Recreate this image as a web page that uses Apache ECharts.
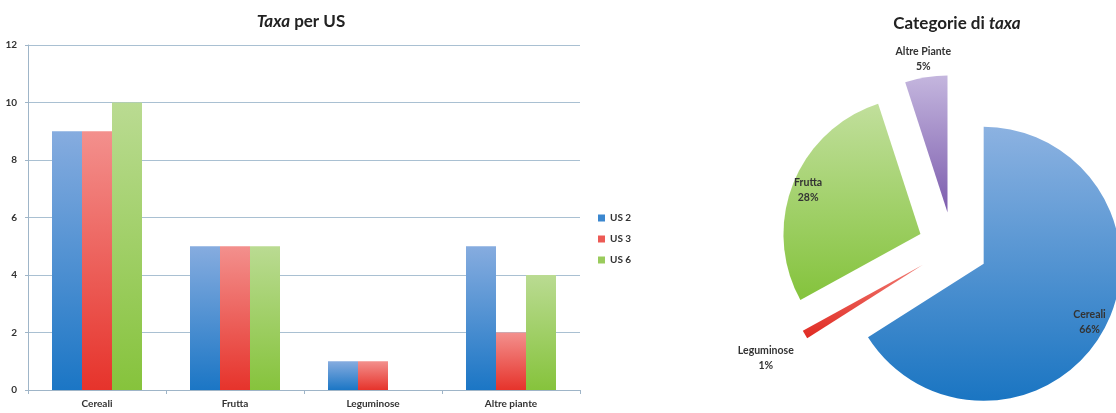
<!DOCTYPE html>
<html><head><meta charset="utf-8">
<script src="https://cdn.jsdelivr.net/npm/echarts@6/dist/echarts.min.js"></script>
<style>html,body{margin:0;padding:0;background:#fff}#c{width:1116px;height:413px}</style>
</head><body><div id="c"></div>
<script>
const categories = ['Cereali', 'Frutta', 'Leguminose', 'Altre piante'];
const us2 = [9, 5, 1, 5];
const us3 = [9, 5, 1, 2];
const us6 = [10, 5, 0, 4];
const seriesNames = ['US 2', 'US 3', 'US 6'];
const yTicks = [0, 2, 4, 6, 8, 10, 12];
const pieNames = ['Cereali', 'Leguminose', 'Frutta', 'Altre Piante'];
const pieValues = [66, 1, 28, 5];

const FONT = 'Lato, "Open Sans", sans-serif';
function grad(top, bottom) {
  return new echarts.graphic.LinearGradient(0, 0, 0, 1, [{offset: 0, color: top}, {offset: 1, color: bottom}]);
}
const barGrads = [grad('#86acdf', '#1b76c5'), grad('#f3908d', '#e6332b'), grad('#badb92', '#86c33c')];
const barSolid = ['#3b87cf', '#ec5a55', '#9acb5c'];
const pieGrads = {
  'Cereali': grad('#8cb2e1', '#1a75c2'),
  'Leguminose': grad('#f07a72', '#e02a22'),
  'Frutta': grad('#c1df9c', '#84c33c'),
  'Altre Piante': grad('#c4b6de', '#7c5cad')
};
const R = 137, OFF = 35, CX = 953, CY = 247;

const barData = [us2, us3, us6];
const pieMain = pieNames.map((n, i) => ({name: n, value: pieValues[i], selected: true, itemStyle: {color: pieGrads[n]}}));
function labeledOnly(names) {
  return pieNames.map((n, i) => ({name: n, value: pieValues[i], selected: true, label: {show: names.includes(n)}}));
}

const labelStyle = {fontFamily: FONT, fontSize: 10.5, color: '#333', fontWeight: 'bold', lineHeight: 15, formatter: '{b}\n{d}%'};
function overlay(data, r0, r1) {
  return {
    type: 'pie', center: [CX, CY], radius: [r0, r1], startAngle: 90, clockwise: true,
    selectedMode: 'multiple', selectedOffset: OFF, silent: true, animation: false,
    itemStyle: {color: 'rgba(0,0,0,0)'}, emphasis: {disabled: true},
    label: Object.assign({position: 'inside'}, labelStyle), labelLine: {show: false},
    select: {itemStyle: {color: 'rgba(0,0,0,0)'}},
    data: data, z: 5
  };
}
const titleRich = {
  i: {fontFamily: FONT, fontSize: 17, fontWeight: 'bold', fontStyle: 'italic', color: '#222'},
  b: {fontFamily: FONT, fontSize: 17, fontWeight: 'bold', color: '#222'}
};

const chart = echarts.init(document.getElementById('c'), null, {renderer: 'canvas'});
chart.setOption({
  animation: false,
  title: [
    {text: '{i|Taxa}{b| per US}', left: 296, top: 8, textAlign: 'center', textStyle: {rich: titleRich}},
    {text: '{b|Categorie di }{i|taxa}', left: 952, top: 10, textAlign: 'center', textStyle: {rich: titleRich}}
  ],
  legend: {
    orient: 'vertical', left: 593, top: 208, itemWidth: 7, itemHeight: 7, itemGap: 11,
    icon: 'rect', textStyle: {fontFamily: FONT, fontSize: 10, fontWeight: 'bold', color: '#333'},
    data: seriesNames.map((n, i) => ({name: n, itemStyle: {color: barSolid[i]}}))
  },
  grid: {left: 28, right: 536, top: 45, bottom: 23},
  xAxis: {
    type: 'category', data: categories,
    axisLine: {lineStyle: {color: '#9fb5c8'}},
    axisTick: {show: true, length: 4, lineStyle: {color: '#9fb5c8'}},
    axisLabel: {fontFamily: FONT, fontSize: 10, fontWeight: 'bold', color: '#333', margin: 9}
  },
  yAxis: {
    type: 'value', min: 0, max: 12, interval: 2,
    axisLine: {show: true, lineStyle: {color: '#9fb5c8'}},
    axisTick: {show: true, length: 3, lineStyle: {color: '#9fb5c8'}},
    splitLine: {lineStyle: {color: '#a9c0d2'}},
    axisLabel: {fontFamily: FONT, fontSize: 10, fontWeight: 'bold', color: '#333', margin: 11,
                formatter: v => yTicks.includes(v) ? String(v) : ''}
  },
  series: [
    ...seriesNames.map((n, i) => ({
      type: 'bar', name: n, data: barData[i], barWidth: 30, barGap: '0%',
      itemStyle: {color: barGrads[i]}, emphasis: {disabled: true}
    })),
    {
      type: 'pie', center: [CX, CY], radius: [0, R], startAngle: 90, clockwise: true,
      selectedMode: 'multiple', selectedOffset: OFF, animation: false,
      label: {show: false}, labelLine: {show: false}, emphasis: {disabled: true},
      data: pieMain
    },
    overlay(labeledOnly(['Cereali', 'Frutta']), R * 0.72, R),
    overlay(labeledOnly(['Altre Piante']), R * 1.0, R * 1.22),
    overlay(labeledOnly(['Leguminose']), R * 1.1, R * 1.52)
  ]
});
</script></body></html>
